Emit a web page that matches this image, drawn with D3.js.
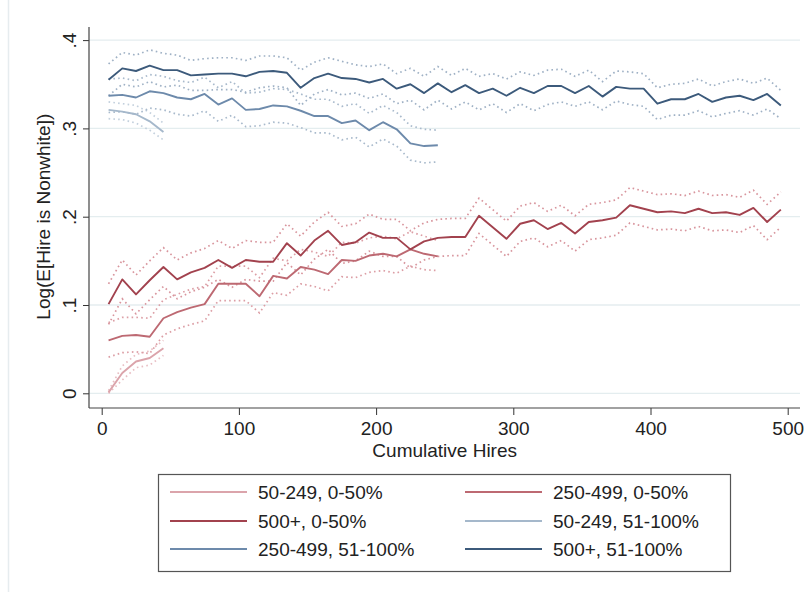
<!DOCTYPE html>
<html>
<head>
<meta charset="utf-8">
<script src="https://cdn.jsdelivr.net/npm/d3@7"></script>
<style>
  body { margin: 0; background: #fff; }
  svg text { font-family: "Liberation Sans", Arial, sans-serif; fill: #222; }
</style>
</head>
<body>
<div id="chart"></div>
<script>
// cumulative hires (x), one point every 10 hires
var hires = [5,15,25,35,45,55,65,75,85,95,105,115,125,135,145,155,165,175,185,195,205,215,225,235,245,
  255,265,275,285,295,305,315,325,335,345,355,365,375,385,395,405,415,425,435,445,455,465,475,485,495];

// 50-249, 0-50%
var s1 = [0.001,0.023,0.036,0.040,0.051];
var s1Hi = [0.003,0.031,0.044,0.048,0.060];
var s1Lo = [0.000,0.015,0.029,0.032,0.043];

// 250-499, 0-50%
var s2 = [0.060,0.065,0.066,0.064,0.085,0.092,0.097,0.101,0.124,0.124,0.124,0.110,0.133,0.130,0.143,0.140,0.135,0.151,0.150,0.156,0.158,0.155,0.163,0.158,0.155];
var s2Hi = [0.080,0.086,0.086,0.085,0.106,0.112,0.118,0.121,0.144,0.144,0.144,0.131,0.153,0.150,0.163,0.160,0.155,0.171,0.170,0.176,0.178,0.175,0.183,0.178,0.173];
var s2Lo = [0.041,0.046,0.047,0.045,0.066,0.073,0.078,0.082,0.105,0.105,0.105,0.091,0.114,0.111,0.124,0.121,0.116,0.132,0.131,0.137,0.139,0.136,0.144,0.140,0.139];

// 500+, 0-50%
var s3 = [0.101,0.129,0.112,0.128,0.143,0.129,0.137,0.142,0.151,0.142,0.151,0.149,0.149,0.170,0.156,0.173,0.184,0.168,0.171,0.182,0.176,0.176,0.163,0.172,0.176,
  0.177,0.177,0.201,0.188,0.175,0.192,0.196,0.186,0.193,0.181,0.194,0.196,0.199,0.213,0.209,0.205,0.206,0.204,0.209,0.204,0.205,0.202,0.210,0.194,0.208];
var s3Hi = [0.124,0.151,0.134,0.150,0.165,0.151,0.159,0.164,0.173,0.164,0.173,0.171,0.171,0.192,0.178,0.194,0.205,0.189,0.192,0.203,0.197,0.197,0.184,0.193,0.197,
  0.198,0.198,0.221,0.208,0.195,0.212,0.216,0.206,0.213,0.201,0.214,0.216,0.219,0.233,0.229,0.225,0.226,0.224,0.229,0.224,0.225,0.222,0.230,0.214,0.228];
var s3Lo = [0.078,0.107,0.090,0.106,0.121,0.107,0.115,0.120,0.129,0.120,0.129,0.127,0.127,0.148,0.134,0.152,0.163,0.147,0.150,0.161,0.155,0.155,0.142,0.151,0.155,
  0.156,0.156,0.181,0.168,0.155,0.172,0.176,0.166,0.173,0.161,0.174,0.176,0.179,0.193,0.189,0.185,0.186,0.184,0.189,0.184,0.185,0.182,0.190,0.174,0.188];

// 50-249, 51-100%
var s4 = [0.321,0.319,0.316,0.308,0.296];
var s4Hi = [0.330,0.328,0.326,0.318,0.306];
var s4Lo = [0.311,0.310,0.306,0.298,0.287];

// 250-499, 51-100%
var s5 = [0.337,0.338,0.335,0.342,0.340,0.335,0.333,0.339,0.327,0.334,0.321,0.322,0.326,0.325,0.320,0.314,0.314,0.306,0.309,0.298,0.307,0.299,0.283,0.280,0.281];
var s5Hi = [0.356,0.357,0.354,0.361,0.359,0.354,0.352,0.358,0.346,0.353,0.340,0.341,0.345,0.344,0.339,0.333,0.333,0.325,0.328,0.317,0.326,0.318,0.303,0.299,0.298];
var s5Lo = [0.318,0.319,0.316,0.323,0.321,0.316,0.314,0.320,0.308,0.315,0.302,0.303,0.307,0.306,0.301,0.295,0.295,0.287,0.290,0.279,0.288,0.280,0.264,0.261,0.262];

// 500+, 51-100%
var s6 = [0.355,0.368,0.365,0.371,0.366,0.366,0.360,0.361,0.362,0.362,0.359,0.364,0.365,0.363,0.346,0.357,0.362,0.357,0.356,0.352,0.356,0.345,0.350,0.340,0.351,
  0.341,0.349,0.340,0.345,0.337,0.346,0.340,0.348,0.348,0.340,0.348,0.336,0.347,0.345,0.345,0.328,0.333,0.333,0.339,0.330,0.335,0.337,0.332,0.339,0.326];
var s6Hi = [0.373,0.386,0.383,0.389,0.385,0.383,0.377,0.379,0.380,0.380,0.377,0.382,0.382,0.380,0.366,0.375,0.380,0.376,0.372,0.370,0.373,0.362,0.368,0.359,0.370,
  0.360,0.368,0.359,0.362,0.356,0.364,0.360,0.366,0.367,0.359,0.366,0.353,0.365,0.364,0.362,0.346,0.350,0.351,0.356,0.348,0.353,0.356,0.351,0.357,0.343];
var s6Lo = [0.337,0.350,0.347,0.353,0.347,0.349,0.343,0.343,0.344,0.344,0.341,0.346,0.348,0.346,0.326,0.339,0.344,0.338,0.340,0.334,0.339,0.328,0.332,0.321,0.332,
  0.322,0.330,0.321,0.328,0.318,0.328,0.320,0.327,0.330,0.325,0.330,0.321,0.331,0.327,0.325,0.310,0.315,0.315,0.320,0.313,0.317,0.320,0.315,0.322,0.311];

var yTicks = [0, 0.1, 0.2, 0.3, 0.4];
var yTickLabels = ["0", ".1", ".2", ".3", ".4"];
var xTicks = [0, 100, 200, 300, 400, 500];

var series = [
  { name: "50-249, 0-50%",    mean: s1, hi: s1Hi, lo: s1Lo, color: "#dba4ab", ci: "#e8bec3" },
  { name: "250-499, 0-50%",   mean: s2, hi: s2Hi, lo: s2Lo, color: "#bd6972", ci: "#dc9ea5" },
  { name: "500+, 0-50%",      mean: s3, hi: s3Hi, lo: s3Lo, color: "#a2424e", ci: "#d8959d" },
  { name: "50-249, 51-100%",  mean: s4, hi: s4Hi, lo: s4Lo, color: "#a5b8cb", ci: "#c3d0dd" },
  { name: "250-499, 51-100%", mean: s5, hi: s5Hi, lo: s5Lo, color: "#6d8aab", ci: "#a9bacc" },
  { name: "500+, 51-100%",    mean: s6, hi: s6Hi, lo: s6Lo, color: "#3c5a7b", ci: "#9fb1c5" }
];

var width = 809, height = 592;

var svg = d3.select("#chart")
  .append("svg")
  .attr("width", width)
  .attr("height", height);

// faint outer frame line on the left
svg.append("line")
  .attr("x1", 8.5).attr("x2", 8.5).attr("y1", 0).attr("y2", height)
  .attr("stroke", "#e6ecef").attr("stroke-width", 1.5);

var x = d3.scaleLinear().domain([0, 500]).range([101.7, 787.7]);
var y = d3.scaleLinear().domain([0, 0.4]).range([393.3, 40.1]);

var plotLeft = 89, plotRight = 800, plotTop = 27, plotBottom = 408;

// gridlines
svg.append("g")
  .selectAll("line")
  .data(yTicks)
  .enter()
  .append("line")
  .attr("x1", plotLeft).attr("x2", plotRight)
  .attr("y1", d => y(d)).attr("y2", d => y(d))
  .attr("stroke", "#e4edef")
  .attr("stroke-width", 1.3);

// lines
var line = d3.line()
  .x((d, i) => x(hires[i]))
  .y(d => y(d));

var plot = svg.append("g");

series.forEach(function(s) {
  [s.hi, s.lo].forEach(function(band) {
    plot.append("path")
      .datum(band)
      .attr("d", line)
      .attr("fill", "none")
      .attr("stroke", s.ci)
      .attr("stroke-width", 1.7)
      .attr("stroke-dasharray", "1.6,3.2");
  });
});

series.forEach(function(s) {
  plot.append("path")
    .datum(s.mean)
    .attr("d", line)
    .attr("fill", "none")
    .attr("stroke", s.color)
    .attr("stroke-width", 1.9)
    .attr("stroke-linejoin", "round");
});

// axes
var yAxis = svg.append("g")
  .attr("transform", `translate(${plotLeft},0)`)
  .call(d3.axisLeft(y).tickValues(yTicks).tickSize(6).tickFormat((d, i) => yTickLabels[i]));
yAxis.select(".domain").remove();
yAxis.selectAll(".tick line").attr("stroke", "#333");
yAxis.selectAll(".tick text")
  .attr("x", 0).attr("y", -13).attr("dy", 0)
  .attr("transform", "rotate(-90)")
  .style("text-anchor", "middle")
  .style("font-size", "19px");

var xAxis = svg.append("g")
  .attr("transform", `translate(0,${plotBottom})`)
  .call(d3.axisBottom(x).tickValues(xTicks).tickSize(7).tickFormat(d3.format("d")));
xAxis.select(".domain").remove();
xAxis.selectAll(".tick line").attr("stroke", "#333");
xAxis.selectAll(".tick text")
  .attr("y", 27).attr("dy", 0)
  .style("font-size", "19px");

svg.append("line")
  .attr("x1", plotLeft).attr("x2", plotLeft)
  .attr("y1", plotTop).attr("y2", plotBottom)
  .attr("stroke", "#444").attr("stroke-width", 1.2);
svg.append("line")
  .attr("x1", plotLeft).attr("x2", plotRight)
  .attr("y1", plotBottom).attr("y2", plotBottom)
  .attr("stroke", "#444").attr("stroke-width", 1.2);

// axis titles
svg.append("text")
  .attr("x", (x(0) + x(500)) / 2)
  .attr("y", 457)
  .attr("text-anchor", "middle")
  .style("font-size", "19px")
  .text("Cumulative Hires");

svg.append("text")
  .attr("transform", `translate(50,${(y(0) + y(0.4)) / 2}) rotate(-90)`)
  .attr("text-anchor", "middle")
  .style("font-size", "19px")
  .text("Log(E[Hire is Nonwhite])");

// legend
var legend = svg.append("g");
legend.append("rect")
  .attr("x", 158.5).attr("y", 474.5)
  .attr("width", 572).attr("height", 97)
  .attr("fill", "#fff")
  .attr("stroke", "#555")
  .attr("stroke-width", 1.2);

var colX = [170, 465], rowY = [492, 521, 549];

var items = legend.selectAll(".legend-item")
  .data(series)
  .enter()
  .append("g")
  .attr("class", "legend-item")
  .attr("transform", (d, i) => `translate(${colX[i % 2]},${rowY[Math.floor(i / 2)]})`);

items.append("line")
  .attr("x1", 0).attr("x2", 77)
  .attr("stroke", d => d.color)
  .attr("stroke-width", 1.9);

items.append("text")
  .attr("x", 88)
  .attr("dy", "0.35em")
  .style("font-size", "19px")
  .text(d => d.name);
</script>
</body>
</html>
